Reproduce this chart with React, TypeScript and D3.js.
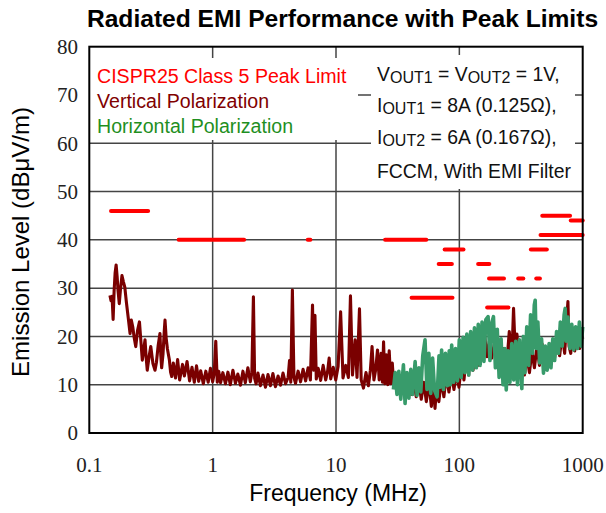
import React from "react";
import * as d3 from "d3";

// CISPR25 class 5 peak limit segments: [fStart MHz, fEnd MHz, level dBuV/m]
const limitSegments: [number, number, number][] = [
  [0.15, 0.3, 46],
  [0.53, 1.8, 40],
  [5.9, 6.2, 40],
  [25, 54, 40],
  [41, 88, 28],
  [68, 87, 35],
  [76, 108, 38],
  [142, 175, 35],
  [168, 250, 26],
  [174, 230, 32],
  [300, 330, 32],
  [420, 450, 32],
  [380, 512, 38],
  [455, 1000, 41],
  [470, 790, 45],
  [800, 1000, 44],
];

// vertical polarization trace: [MHz, dBuV/m]
const vertical: [number, number][] = [
  [0.147, 28.5], [0.150, 27.4], [0.153, 28.3], [0.156, 23.5], [0.159, 29.5], [0.162, 33.2],
  [0.165, 34.8], [0.168, 32.5], [0.171, 29.5], [0.175, 26.8], [0.179, 29.8], [0.184, 32.6],
  [0.189, 31.3], [0.194, 30.2], [0.200, 27.0], [0.207, 23.8], [0.214, 20.6], [0.219, 23.4],
  [0.225, 22.0], [0.231, 19.8], [0.238, 17.9], [0.246, 21.2], [0.255, 23.0], [0.262, 19.0],
  [0.269, 15.1], [0.276, 17.2], [0.283, 19.3], [0.289, 15.6], [0.295, 13.0], [0.305, 15.8],
  [0.315, 17.9], [0.328, 14.4], [0.341, 13.0], [0.350, 14.6], [0.362, 18.2], [0.374, 20.6],
  [0.380, 16.0], [0.386, 13.5], [0.396, 16.4], [0.405, 21.0], [0.411, 23.4], [0.420, 19.6],
  [0.430, 17.4], [0.446, 15.1], [0.456, 12.6], [0.466, 11.7],
  [0.48, 14.5], [0.50, 11.4], [0.52, 15.2], [0.54, 11.0], [0.57, 14.2], [0.59, 11.8],
  [0.62, 14.8], [0.65, 10.8], [0.68, 13.6], [0.71, 10.5], [0.74, 13.9], [0.77, 10.7],
  [0.80, 12.9], [0.84, 10.2], [0.88, 12.8], [0.92, 10.5], [0.96, 13.4], [1.00, 10.6],
  [1.03, 12.4], [1.06, 19.0], [1.09, 10.5], [1.12, 12.8], [1.16, 10.4], [1.21, 12.5],
  [1.27, 10.2], [1.33, 12.6], [1.39, 10.0], [1.46, 13.0], [1.53, 10.3], [1.60, 12.2],
  [1.68, 9.9], [1.76, 12.8], [1.84, 10.4], [1.93, 13.5], [2.02, 10.6], [2.08, 12.5],
  [2.14, 28.2], [2.19, 11.3], [2.25, 10.2], [2.33, 12.4], [2.44, 9.8], [2.56, 12.0],
  [2.68, 9.5], [2.81, 12.1], [2.94, 9.8], [3.08, 12.3], [3.23, 9.6], [3.39, 11.8],
  [3.55, 9.9], [3.72, 12.4], [3.90, 10.2], [4.09, 11.5], [4.20, 15.0], [4.30, 10.5],
  [4.43, 29.6], [4.56, 11.5], [4.70, 10.3], [4.93, 12.8], [5.16, 10.6], [5.41, 13.2],
  [5.67, 10.8], [5.94, 13.5], [6.20, 11.0], [6.45, 26.5], [6.60, 13.0], [6.75, 24.4],
  [6.92, 11.2], [7.17, 13.4], [7.51, 10.9], [7.87, 14.0], [8.25, 11.0], [8.55, 12.8],
  [8.80, 15.5], [9.06, 11.2], [9.50, 13.6], [9.95, 11.0], [10.4, 13.8], [10.9, 25.1],
  [11.4, 11.4], [12.0, 14.0], [12.6, 11.5], [13.1, 28.4], [13.6, 12.0], [14.3, 19.3],
  [14.8, 11.5], [15.5, 25.7], [16.0, 11.0], [16.7, 9.3], [17.5, 12.5], [18.3, 9.8],
  [19.0, 13.0], [19.6, 17.9], [20.3, 11.0], [21.0, 13.2], [21.7, 17.2], [22.4, 11.0],
  [23.2, 16.5], [23.8, 10.5], [24.3, 18.9], [24.9, 10.2], [25.6, 16.2], [26.3, 10.0],
  [27.0, 17.0], [27.8, 10.2], [28.6, 14.5], [29.4, 9.8], [30.2, 12.0],
  [30.9, 9.5], [32.2, 12.2], [33.8, 9.2], [35.4, 12.0], [37.1, 9.0], [38.9, 11.5],
  [40.7, 8.0], [42.7, 11.0], [44.7, 7.5], [46.9, 10.8], [49.1, 7.0], [51.5, 10.5],
  [54.0, 6.5], [56.6, 10.6], [59.3, 5.5], [61.5, 10.0], [63.5, 5.1], [65.5, 9.8],
  [68.2, 6.5], [71.5, 11.0], [74.9, 7.5], [78.5, 12.0], [82.3, 8.5], [86.2, 12.4],
  [90.4, 9.0], [94.7, 12.5], [99.3, 9.5], [104, 14.0], [109, 11.0], [114, 16.0],
  [119, 12.0], [124, 20.6], [129, 13.0], [135, 17.0], [141, 14.0], [147, 19.0],
  [153, 15.5], [160, 20.5], [167, 15.8], [175, 19.0], [183, 15.5], [192, 18.5],
  [201, 14.5], [211, 17.0], [221, 14.0], [231, 17.5], [243, 14.8], [254, 21.0],
  [266, 15.0], [275, 25.8], [284, 16.5], [293, 20.5], [307, 13.5], [321, 17.5],
  [337, 12.0], [353, 16.0], [370, 12.5], [388, 17.0], [406, 13.5], [426, 18.0],
  [446, 14.0], [468, 18.5], [490, 15.0], [514, 17.0], [538, 14.5], [564, 18.5],
  [591, 15.5], [620, 19.5], [650, 16.0], [681, 20.5], [714, 16.5], [740, 23.0],
  [759, 27.2], [775, 18.0], [800, 16.5], [821, 21.0], [861, 17.0], [902, 20.5],
  [946, 17.5], [991, 20.0], [1000, 19.5],
];

// horizontal polarization trace: [MHz, dBuV/m]
const horizontal: [number, number][] = [
  [29.2, 9.0], [30.2, 12.5], [31.2, 8.0], [32.3, 12.8], [33.5, 7.0], [35.2, 14.1],
  [36.3, 6.1], [37.6, 12.5], [39.0, 7.2], [40.4, 13.2], [41.8, 8.0], [43.8, 14.8],
  [45.4, 7.8], [47.0, 13.5], [48.7, 8.5], [50.5, 16.0], [52.7, 19.3], [54.6, 9.0],
  [56.6, 16.5], [58.6, 8.2], [60.7, 15.5], [63.0, 8.8], [66.0, 7.5], [68.4, 16.0],
  [69.9, 9.5], [71.8, 17.2], [74.4, 9.0], [77.1, 16.5], [79.9, 9.8], [82.8, 17.0],
  [84.5, 10.0], [86.7, 18.2], [89.8, 10.5], [93.1, 17.5], [96.4, 10.8], [99.9, 19.3],
  [103.5, 11.5], [107.2, 19.8], [111, 12.5], [115, 20.5], [119.2, 12.0], [123.5, 21.0],
  [128, 13.0], [132.6, 21.8], [137.4, 13.5], [142.3, 22.5], [147.5, 14.0], [152.8, 23.0],
  [158.3, 14.8], [164, 23.5], [171, 24.1], [177, 15.0], [183, 22.8], [189, 24.1],
  [196, 13.5], [203, 21.5], [210, 11.5], [218, 19.5], [226, 10.0], [234, 17.5],
  [240, 8.9], [248, 17.0], [257, 10.5], [266, 18.5], [276, 11.0], [286, 19.0],
  [296, 10.0], [307, 19.3], [321, 9.2], [330, 20.0], [340, 12.5], [352, 22.0],
  [365, 14.0], [378, 24.5], [392, 16.5], [405, 26.5], [412, 27.5], [420, 17.5],
  [433, 23.0], [448, 14.5], [464, 19.5], [481, 12.4], [498, 18.0], [515, 13.0],
  [534, 18.5], [553, 13.5], [572, 19.5], [592, 15.0], [614, 21.0], [636, 16.5],
  [659, 23.0], [683, 18.0], [707, 24.5], [721, 25.8], [735, 19.0], [760, 24.0],
  [788, 17.5], [816, 22.5], [845, 17.2], [876, 22.0], [907, 17.5], [940, 23.0],
  [973, 18.0], [1000, 22.0],
];

const xTicks = [0.1, 1, 10, 100, 1000];
const xTickLabels = ["0.1", "1", "10", "100", "1000"];
const yTicks = [0, 10, 20, 30, 40, 50, 60, 70, 80];

const legendItems = [
  { label: "CISPR25 Class 5 Peak Limit", color: "#ff0000" },
  { label: "Vertical Polarization", color: "#800000" },
  { label: "Horizontal Polarization", color: "#1f8f1f" },
];

const SANS = "'Liberation Sans', Arial, sans-serif";
const SERIF = "'Liberation Serif', 'Times New Roman', serif";

const W = 606;
const H = 513;

const App: React.FC = () => {
  const x = d3.scaleLog().domain([0.1, 1000]).range([89.3, 582.7]);
  const y = d3.scaleLinear().domain([0, 80]).range([433, 46.7]);

  const line = d3
    .line<[number, number]>()
    .x((d) => x(d[0]))
    .y((d) => y(d[1]));

  const [x0, x1] = x.range();
  const [y0, y1] = y.range();

  return (
    <svg
      width={W}
      height={H}
      style={{ position: "absolute", left: 0, top: 0, background: "#fff" }}
    >
      <text
        x={342.5}
        y={27}
        textAnchor="middle"
        fontFamily={SANS}
        fontWeight="bold"
        fontSize={24.6}
      >
        Radiated EMI Performance with Peak Limits
      </text>

      {/* grid */}
      <g stroke="#444" strokeWidth={1.5}>
        {yTicks.slice(1, -1).map((t) => (
          <line key={"gy" + t} x1={x0} x2={x1} y1={y(t)} y2={y(t)} />
        ))}
        {xTicks.slice(1, -1).map((t) => (
          <line key={"gx" + t} x1={x(t)} x2={x(t)} y1={y0} y2={y1} />
        ))}
      </g>

      {/* boxes behind legend and notes */}
      <rect x={90} y={58} width={268} height={82} fill="#fff" />
      <rect x={371} y={55} width={204} height={134} fill="#fff" />

      {/* limit lines */}
      <g stroke="#ff0000" strokeWidth={4} strokeLinecap="round">
        {limitSegments.map(([f1, f2, v], i) => (
          <line key={"lim" + i} x1={x(f1)} x2={x(f2)} y1={y(v)} y2={y(v)} />
        ))}
      </g>

      <path
        d={line(vertical) || ""}
        fill="none"
        stroke="#7a0000"
        strokeWidth={3.1}
        strokeLinejoin="round"
      />
      <path
        d={line(horizontal) || ""}
        fill="none"
        stroke="#389b6b"
        strokeWidth={3.6}
        strokeLinejoin="round"
      />

      {/* frame */}
      <rect
        x={x0}
        y={y1}
        width={x1 - x0}
        height={y0 - y1}
        fill="none"
        stroke="#000"
        strokeWidth={2}
      />

      {/* y tick labels */}
      <g fontFamily={SERIF} fontSize={21} textAnchor="end" fill="#222">
        {yTicks.map((t) => (
          <text key={"yl" + t} x={78} y={y(t)} dy="0.35em">
            {t}
          </text>
        ))}
      </g>

      {/* x tick labels */}
      <g fontFamily={SERIF} fontSize={21} textAnchor="middle" fill="#222">
        {xTicks.map((t, i) => (
          <text key={"xl" + t} x={x(t)} y={472}>
            {xTickLabels[i]}
          </text>
        ))}
      </g>

      <text
        x={338}
        y={501}
        textAnchor="middle"
        fontFamily={SANS}
        fontSize={23}
      >
        Frequency (MHz)
      </text>
      <text
        transform="translate(29,242) rotate(-90)"
        textAnchor="middle"
        fontFamily={SANS}
        fontSize={24}
      >
        Emission Level (dBμV/m)
      </text>

      {/* legend */}
      <g fontFamily={SANS} fontSize={19.6}>
        {legendItems.map((d, i) => (
          <text key={d.label} x={97} y={83 + i * 25} fill={d.color}>
            {d.label}
          </text>
        ))}
      </g>

      {/* operating conditions */}
      <g fontFamily={SANS} fontSize={19.4} fill="#111">
        <text x={377} y={80.5}>
          V<tspan fontSize={16} dy={2}>OUT1</tspan>
          <tspan dy={-2}> = V</tspan>
          <tspan fontSize={16} dy={2}>OUT2</tspan>
          <tspan dy={-2}> = 1V,</tspan>
        </text>
        <text x={377} y={112}>
          I<tspan fontSize={16} dy={2}>OUT1</tspan>
          <tspan dy={-2}> = 8A (0.125Ω),</tspan>
        </text>
        <text x={377} y={144}>
          I<tspan fontSize={16} dy={2}>OUT2</tspan>
          <tspan dy={-2}> = 6A (0.167Ω),</tspan>
        </text>
        <text x={377} y={178}>
          FCCM, With EMI Filter
        </text>
      </g>
    </svg>
  );
};

export default App;
